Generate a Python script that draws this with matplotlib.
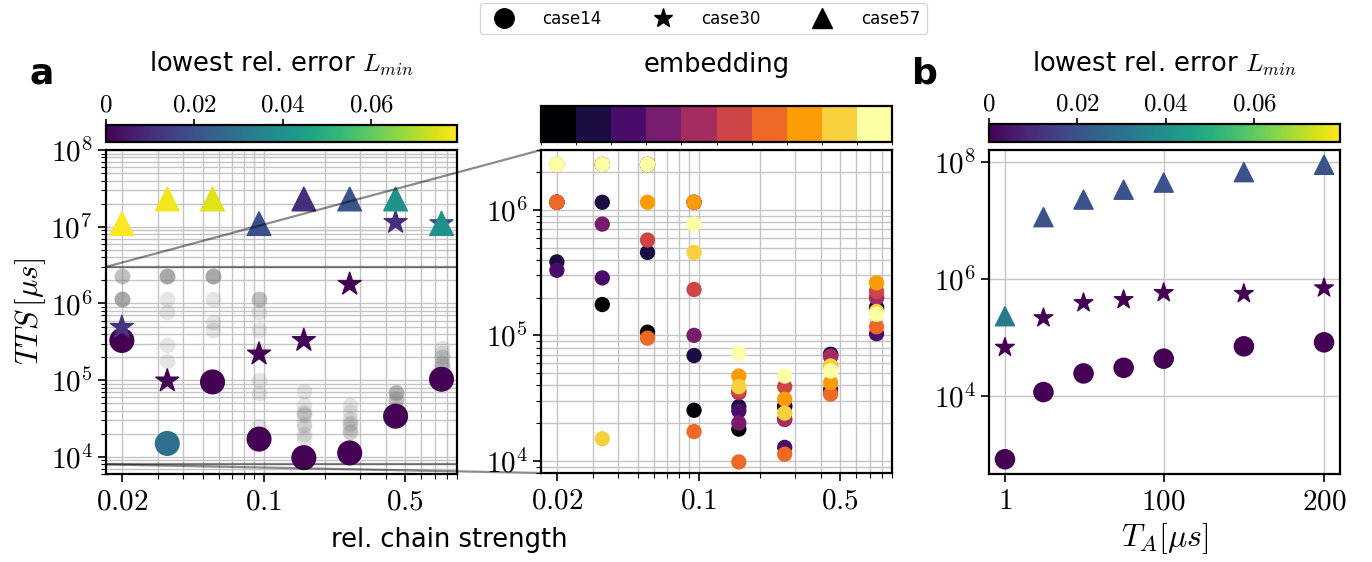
import numpy as np
import matplotlib
matplotlib.use("Agg")
import matplotlib.pyplot as plt
from matplotlib.colors import Normalize, BoundaryNorm
from matplotlib.cm import ScalarMappable
from matplotlib.lines import Line2D
from matplotlib.patches import ConnectionPatch
import matplotlib.ticker as mticker

plt.rcParams['mathtext.fontset'] = 'cm'
plt.rcParams['font.family'] = ['DejaVu Sans']

# ---------------- data ----------------
chain = [0.02, 0.0335, 0.056, 0.095, 0.158, 0.266, 0.448, 0.755]

# panel a: lowest TTS per case and its relative error
tts14 = [3.3e5, 1.5e4, 9.5e4, 1.71e4, 9.8e3, 1.13e4, 3.4e4, 1.03e5]
tts30 = [4.9e5, 9.8e4, np.nan, 2.2e5, 3.3e5, 1.78e6, 1.14e7, 1.1e7]
tts57 = [1.1e7, 2.3e7, 2.3e7, 1.1e7, 2.3e7, 2.3e7, 2.3e7, 1.1e7]
err14 = [0.0, 0.0286, 0.0, 0.0, 0.0, 0.0, 0.0, 0.0]
err30 = [0.0119, 0.0, np.nan, 0.0, 0.0, 0.0, 0.0103, 0.020]
err57 = [0.0794, 0.078, 0.0754, 0.019, 0.0103, 0.021, 0.0397, 0.0405]
err_max = 0.0794

# case14 TTS for each embedding (rows: embedding 0..9, columns: chain strength)
emb0 = [1.15e6, 1.76e5, 1.06e5, 2.53e4, 1.79e4, 2.70e4, 7.05e4, 1.66e5]
emb1 = [3.85e5, 1.15e6, 4.58e5, 6.90e4, 2.70e4, 2.75e4, 7.05e4, 1.66e5]
emb2 = [3.30e5, 2.87e5, 2.30e6, 1.15e6, 2.50e4, 1.28e4, 3.70e4, 1.03e5]
emb3 = [1.15e6, 7.70e5, 2.30e6, 1.00e5, 2.00e4, 2.14e4, 6.80e4, 2.00e5]
emb4 = [1.15e6, 2.30e6, 2.30e6, 1.15e6, 3.49e4, 2.14e4, 6.80e4, 2.00e5]
emb5 = [1.15e6, 2.30e6, 5.75e5, 2.32e5, 3.60e4, 3.90e4, 5.70e4, 2.24e5]
emb6 = [1.15e6, 2.30e6, 9.50e4, 1.71e4, 9.80e3, 1.13e4, 3.40e4, 1.17e5]
emb7 = [2.30e6, 2.30e6, 1.15e6, 1.15e6, 4.74e4, 3.10e4, 4.20e4, 2.62e5]
emb8 = [2.30e6, 1.50e4, 2.30e6, 4.58e5, 3.90e4, 2.40e4, 5.70e4, 1.55e5]
emb9 = [2.30e6, 2.30e6, 2.30e6, 7.70e5, 7.20e4, 4.74e4, 5.20e4, 1.47e5]
embeddings = [emb0, emb1, emb2, emb3, emb4, emb5, emb6, emb7, emb8, emb9]

# panel b: annealing time
t_anneal = [1, 25, 50, 75, 100, 150, 200]
b_tts14 = [8.1e2, 1.15e4, 2.4e4, 3.0e4, 4.3e4, 7.0e4, 8.2e4]
b_tts30 = [6.7e4, 2.15e5, 3.9e5, 4.4e5, 5.8e5, 5.6e5, 7.0e5]
b_tts57 = [2.3e5, 1.15e7, 2.3e7, 3.4e7, 4.5e7, 6.8e7, 9.1e7]
b_err14 = [0.0, 0.0, 0.0, 0.0, 0.0, 0.0, 0.0]
b_err30 = [0.0, 0.0, 0.0, 0.0, 0.0, 0.0, 0.0]
b_err57 = [0.032, 0.0199, 0.0199, 0.0199, 0.0199, 0.0199, 0.0199]

# ---------------- figure ----------------
W, H = 1372, 562
fig = plt.figure(figsize=(W / 100, H / 100), dpi=100)


def rect(x0, y0, x1, y1):
    return [x0 / W, 1 - y1 / H, (x1 - x0) / W, (y1 - y0) / H]


axL = fig.add_axes(rect(106, 150, 457, 474))
axM = fig.add_axes(rect(541, 150, 892, 473))
axR = fig.add_axes(rect(989, 150, 1340, 474))
caxL = fig.add_axes(rect(106, 125, 457, 142))
caxM = fig.add_axes(rect(541, 106, 892, 142))
caxR = fig.add_axes(rect(989, 124, 1340, 142))

norm = Normalize(0, err_max)
cmap = plt.get_cmap('viridis')
emb_cmap = plt.get_cmap('inferno', 10)
emb_norm = BoundaryNorm(np.arange(-0.5, 10.5, 1), 10)

TICK = 21
grid_kw = dict(color='#c4c4c4', lw=1.0)

# ---- panel a (left) ----
for e in embeddings:
    axL.scatter(chain, e, s=128, color='gray', alpha=0.2, linewidths=0, zorder=2)
axL.scatter(chain, tts14, c=err14, cmap=cmap, norm=norm, s=290, marker='o', zorder=3)
axL.scatter(chain, tts30, c=err30, cmap=cmap, norm=norm, s=300, marker='*', zorder=4)
axL.scatter(chain, tts57, c=err57, cmap=cmap, norm=norm, s=290, marker='^', zorder=5)

# ---- zoom panel (middle) ----
for i, e in enumerate(embeddings):
    axM.scatter(chain, e, c=[i] * len(chain), cmap=emb_cmap, norm=emb_norm, s=100, zorder=3)

for ax in (axL, axM):
    ax.set_xscale('log')
    ax.set_yscale('log')
    ax.set_xlim(0.0167, 0.9)
    ax.set_xticks([0.02, 0.1, 0.5])
    ax.set_xticklabels(['$0.02$', '$0.1$', '$0.5$'])
    ax.xaxis.set_minor_locator(mticker.LogLocator(subs=np.arange(2, 10)))
    ax.xaxis.set_minor_formatter(mticker.NullFormatter())
    ax.yaxis.set_minor_locator(mticker.LogLocator(subs=np.arange(2, 10), numticks=20))
    ax.yaxis.set_minor_formatter(mticker.NullFormatter())
    ax.grid(True, which='both', **grid_kw)
    ax.set_axisbelow(True)

axL.set_ylim(6e3, 1e8)
axL.set_yticks([1e4, 1e5, 1e6, 1e7, 1e8])
axL.set_yticklabels(['$10^{4}$', '$10^{5}$', '$10^{6}$', '$10^{7}$', '$10^{8}$'])
axL.set_ylabel(r'$TTS\,[\mu s]$', fontsize=22, labelpad=2)

axM.set_ylim(8e3, 3e6)
axM.set_yticks([1e4, 1e5, 1e6])
axM.set_yticklabels(['$10^{4}$', '$10^{5}$', '$10^{6}$'])

# ---- panel b (right) ----
axR.scatter(t_anneal, b_tts14, c=b_err14, cmap=cmap, norm=norm, s=190, marker='o', zorder=3)
axR.scatter(t_anneal, b_tts30, c=b_err30, cmap=cmap, norm=norm, s=200, marker='*', zorder=3)
axR.scatter(t_anneal, b_tts57, c=b_err57, cmap=cmap, norm=norm, s=190, marker='^', zorder=3)
axR.set_yscale('log')
axR.set_yticks([1e4, 1e6, 1e8])
axR.set_yticklabels(['$10^{4}$', '$10^{6}$', '$10^{8}$'])
axR.yaxis.set_minor_locator(mticker.NullLocator())
axR.set_xticks([1, 100, 200])
axR.set_xticklabels(['$1$', '$100$', '$200$'])
axR.grid(True, which='major', **grid_kw)
axR.set_axisbelow(True)
axR.set_xlabel(r'$T_A[\mu s]$', fontsize=23, labelpad=4)

for ax in (axL, axM, axR):
    ax.tick_params(which='major', labelsize=TICK, length=6, width=1.2)
    ax.tick_params(which='minor', length=3.5, width=0.8)
    for sp in ax.spines.values():
        sp.set_linewidth(1.6)

# ---- zoom indicator ----
line_kw = dict(color='k', alpha=0.45, lw=1.6)
axL.axhline(3e6, zorder=2.5, **line_kw)
axL.axhline(8e3, zorder=2.5, **line_kw)
x0 = axL.get_xlim()[0]
for yv, yb in ((3e6, 1.0), (8e3, 0.0)):
    con = ConnectionPatch(xyA=(x0, yv), coordsA=axL.transData,
                          xyB=(0.0, yb), coordsB=axM.transAxes, **line_kw)
    fig.add_artist(con)

# ---- colorbars ----
for cax in (caxL, caxR):
    cb = fig.colorbar(ScalarMappable(norm=norm, cmap=cmap), cax=cax, orientation='horizontal')
    cb.set_ticks([0, 0.02, 0.04, 0.06])
    cb.set_ticklabels(['$0$', '$0.02$', '$0.04$', '$0.06$'])
    cax.xaxis.set_ticks_position('top')
    cax.tick_params(labelsize=18, length=4, width=1.2, pad=2)
    cb.outline.set_linewidth(1.6)

cbM = fig.colorbar(ScalarMappable(norm=emb_norm, cmap=emb_cmap), cax=caxM, orientation='horizontal')
cbM.set_ticks([])
cbM.outline.set_linewidth(1.6)

LBL = 18.5
fig.text(281.5 / W, 1 - 72 / H, 'lowest rel. error $L_{min}$', fontsize=LBL, ha='center', va='baseline')
fig.text(716.5 / W, 1 - 72 / H, 'embedding', fontsize=LBL, ha='center', va='baseline')
fig.text(1164.5 / W, 1 - 72 / H, 'lowest rel. error $L_{min}$', fontsize=LBL, ha='center', va='baseline')
fig.text(449 / W, 1 - 547 / H, 'rel. chain strength', fontsize=LBL, ha='center', va='baseline')

fig.text(42 / W, 1 - 83 / H, 'a', fontsize=26, fontweight='bold', ha='center', va='baseline')
fig.text(925 / W, 1 - 83 / H, 'b', fontsize=26, fontweight='bold', ha='center', va='baseline')

# ---- legend ----
handles = [Line2D([], [], ls='none', marker=m, color='k', markersize=14)
           for m in ('o', '*', '^')]
fig.legend(handles, ['case14', 'case30', 'case57'], loc='upper center',
           bbox_to_anchor=(703.5 / W, 1 - 3 / H), ncol=3, fontsize=12,
           handletextpad=1.3, columnspacing=2.7, borderaxespad=0, frameon=True)

fig.savefig('out.png', dpi=100)
